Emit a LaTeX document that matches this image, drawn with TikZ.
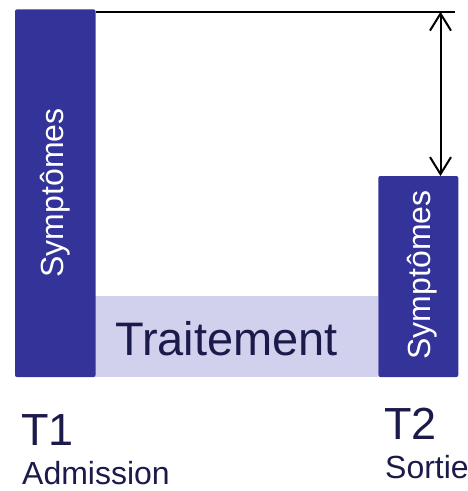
\documentclass[tikz,border=0pt]{standalone}
\usepackage{fontspec}
\setmainfont{Liberation Sans}
\usetikzlibrary{arrows.meta}
\definecolor{barblue}{HTML}{333399}
\definecolor{bandlav}{HTML}{D1D1EE}
\definecolor{navytext}{HTML}{1B1B4B}
\tikzset{
  bar/.style={fill=barblue, draw=none, rounded corners=2pt, inner sep=0pt},
  band/.style={fill=bandlav, draw=none, inner sep=0pt},
  vlabel/.style={text=white, rotate=90, anchor=base, inner sep=0pt, font=\fontsize{32}{32}\selectfont},
  timelabel/.style={text=navytext, anchor=base west, inner sep=0pt, font=\fontsize{45}{45}\selectfont},
  sublabel/.style={text=navytext, anchor=base west, inner sep=0pt, font=\fontsize{32}{32}\selectfont},
  guide/.style={line width=2pt, draw=black},
  dimarrow/.style={line width=2pt, draw=black, {Straight Barb[length=17pt,width=21pt]}-{Straight Barb[length=17pt,width=21pt]}}
}
\begin{document}
\begin{tikzpicture}[x=1pt,y=-1pt]
\useasboundingbox (0,0) rectangle (468,491);
% treatment band
\node[band, minimum width=283pt, minimum height=81pt] (band) at (236.9,336.5) {};
\node[text=navytext, anchor=base, inner sep=0pt, font=\fontsize{47}{47}\selectfont] (trait) at (226.5,355) {Traitement};
% bars
\node[bar, minimum width=80.5pt, minimum height=367.7pt] (leftbar) at (55.25,193.2) {};
\node[bar, minimum width=80pt, minimum height=201pt] (rightbar) at (418.3,276.5) {};
\node[vlabel] (lsym) at (63.5,193) {Symptômes};
\node[vlabel] (rsym) at (430.5,275) {Symptômes};
% top reference line and arrow
\coordinate (lineL) at (95.5,11.7);
\coordinate (lineR) at (455,11.7);
\draw[guide] (lineL) -- (lineR);
\coordinate (arrTop) at (440.5,11.7);
\coordinate (arrBot) at (440.5,176);
\draw[dimarrow] (arrTop) -- (arrBot);
% time labels
\node[timelabel] (t1) at (21,445) {T1};
\node[sublabel] (adm) at (22,484.5) {Admission};
\node[timelabel] (t2) at (384,439) {T2};
\node[sublabel] (sort) at (385,478.5) {Sortie};
\end{tikzpicture}
\end{document}
